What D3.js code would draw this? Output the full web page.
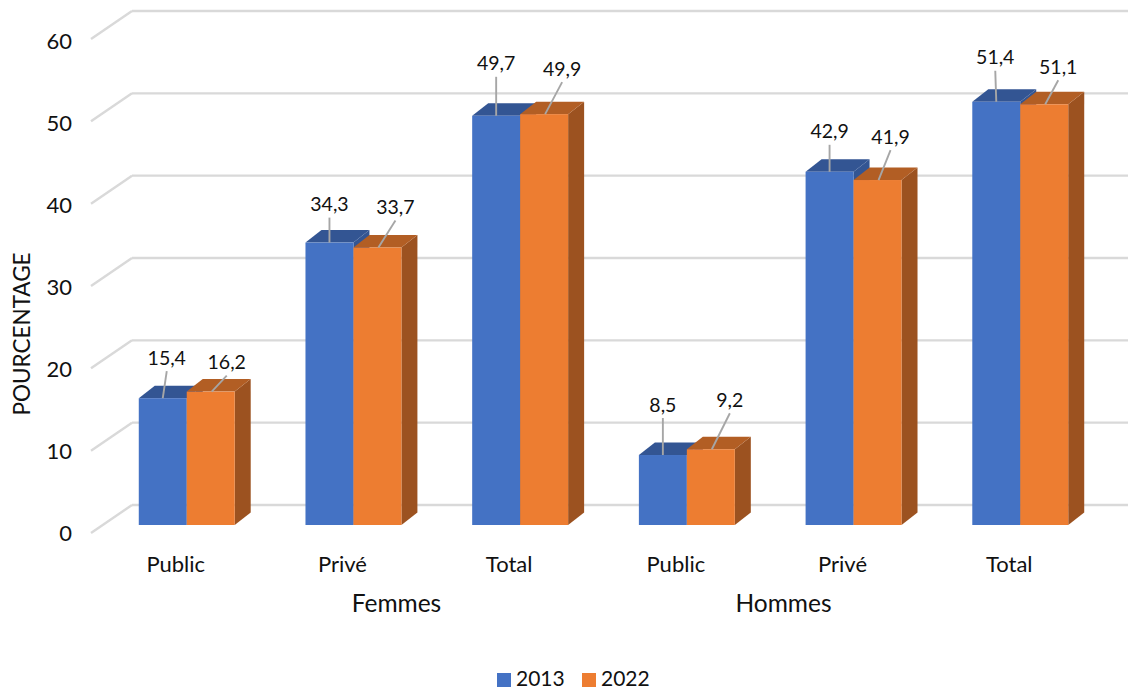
<!DOCTYPE html>
<html><head><meta charset="utf-8">
<script src="https://cdn.jsdelivr.net/npm/d3@7"></script>
<style>html,body{margin:0;background:#fff}svg{display:block}text{font-family:Lato,Carlito,sans-serif;fill:#111}</style>
</head><body><div id="c"></div>
<script>
const categories=["Public","Privé","Total","Public","Privé","Total"];
const groups=["Femmes","Hommes"];
const seriesNames=["2013","2022"];
const values2013=[15.4,34.3,49.7,8.5,42.9,51.4];
const values2022=[16.2,33.7,49.9,9.2,41.9,51.1];
const yTicks=[0,10,20,30,40,50,60];
const lift2013=[40,38,52,50,40,44];
const lift2022=[29,40,45,49,43,37];
const shift2013=[4,0,0,0,0,-1];
const shift2022=[16,18,18,19,13,14];
const colors=["#4472C4","#ED7D31"], tops=["#335593","#B25E24"], sides=["#335593","#9C5220"];
const W=1128,H=690,dx=16,dy=-12.5;
const svg=d3.select("#c").append("svg").attr("width",W).attr("height",H);
const y=d3.scaleLinear().domain([0,60]).range([525,31]);
const yLabel=d3.scaleLinear().domain([0,60]).range([533,41]);
const x=d3.scaleBand().domain(d3.range(6)).range([103.4,1103.6]).paddingInner(0.4245).paddingOuter(0.2122);
const inner=d3.scaleBand().domain([0,1]).range([0,x.bandwidth()]);
const grid="#D9D9D9";
const g=svg.append("g");
yTicks.forEach(t=>{
  const yb=y(t)-20, yf=y(t)+8;
  g.append("line").attr("x1",132).attr("x2",W).attr("y1",yb).attr("y2",yb).attr("stroke",grid).attr("stroke-width",2.4);
  g.append("line").attr("x1",91).attr("x2",132).attr("y1",yf).attr("y2",yb).attr("stroke",grid).attr("stroke-width",2.4);
  svg.append("text").attr("x",72).attr("y",yLabel(t)+8).attr("text-anchor","end").attr("font-size",22).text(t);
});
[values2013,values2022].forEach((vals,s)=>{
  vals.forEach((v,i)=>{
    const bx=x(i)+inner(s), w=inner.bandwidth(), t=y(v), b=y(0);
    const p=a=>a.map(q=>q.join(",")).join(" ");
    const bar=svg.append("g");
    bar.append("polygon").attr("points",p([[bx+w,b],[bx+w+dx,b+dy],[bx+w+dx,t+dy],[bx+w,t]])).attr("fill",sides[s]);
    bar.append("polygon").attr("points",p([[bx,t],[bx+dx,t+dy],[bx+w+dx,t+dy],[bx+w,t]])).attr("fill",tops[s]);
    bar.append("rect").attr("x",bx).attr("y",t).attr("width",w).attr("height",b-t).attr("fill",colors[s]);
  });
});
[values2013,values2022].forEach((vals,s)=>{
  const lift=s?lift2022:lift2013, shift=s?shift2022:shift2013;
  vals.forEach((v,i)=>{
    const cx=x(i)+inner(s)+inner.bandwidth()/2, t=y(v), lx=cx+shift[i], ly=t-lift[i];
    svg.append("line").attr("x1",cx+(s?1:0)).attr("y1",t).attr("x2",lx).attr("y2",ly+13).attr("stroke","#A6A6A6").attr("stroke-width",1.9);
    svg.append("text").attr("x",lx).attr("y",ly+6.5).attr("text-anchor","middle").attr("font-size",19.5).text(String(v).replace(".",","));
  });
});
categories.forEach((c,i)=>{
  svg.append("text").attr("x",x(i)+x.bandwidth()/2-11).attr("y",571.5).attr("text-anchor","middle").attr("font-size",22).text(c);
});
groups.forEach((c,i)=>{
  svg.append("text").attr("x",(x(i*3+1)+x.bandwidth()/2)+(i?-70:43)).attr("y",612).attr("text-anchor","middle").attr("font-size",24.5).text(c);
});
svg.append("text").attr("transform","translate(30,334) rotate(-90)").attr("text-anchor","middle").attr("font-size",22.5).text("POURCENTAGE");
const lx=d3.scaleOrdinal().domain(seriesNames).range([497,582]);
seriesNames.forEach((n,i)=>{
  svg.append("rect").attr("x",lx(n)).attr("y",673).attr("width",14).attr("height",14).attr("fill",colors[i]);
  svg.append("text").attr("x",lx(n)+19).attr("y",685.5).attr("font-size",21).text(n);
});
</script></body></html>
